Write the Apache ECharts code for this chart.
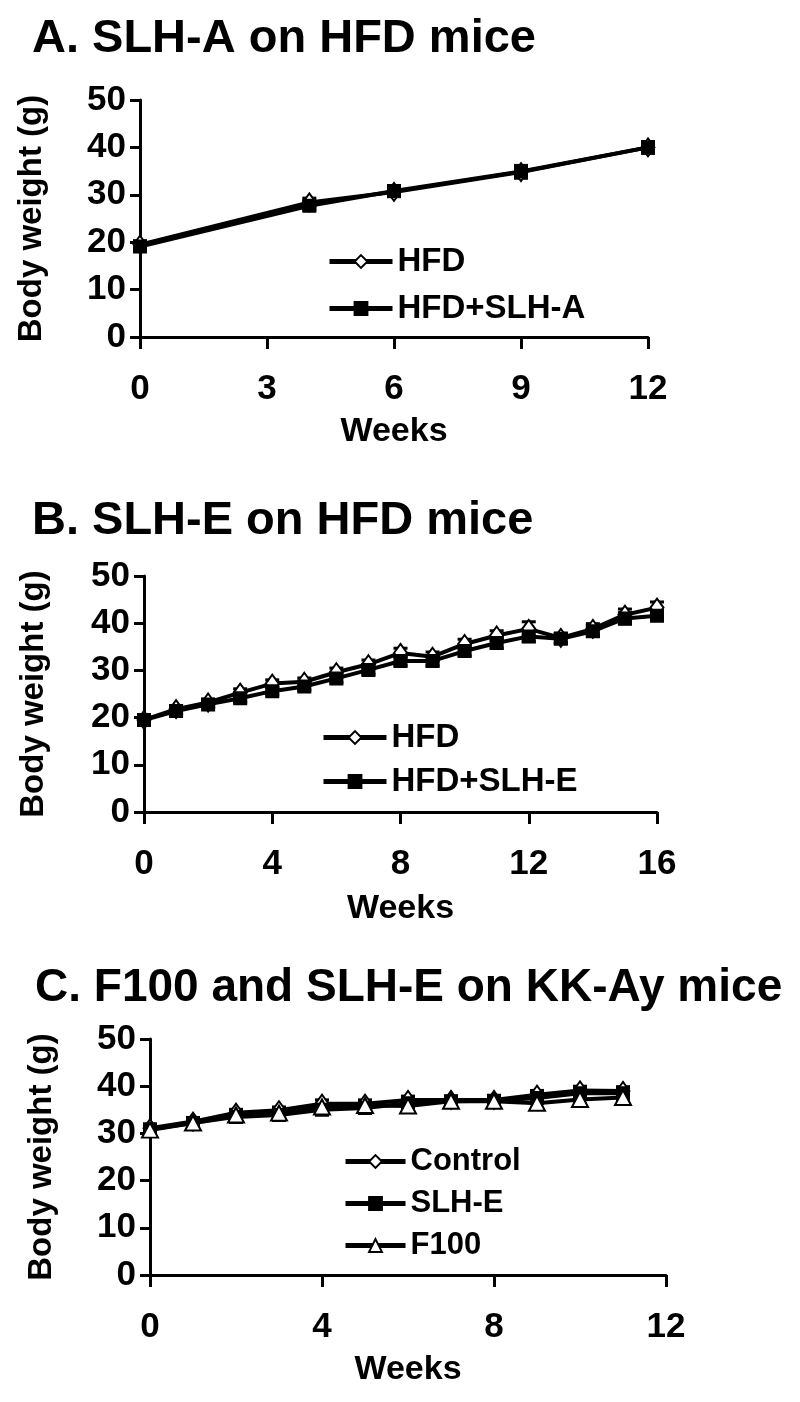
<!DOCTYPE html>
<html>
<head>
<meta charset="utf-8">
<script src="https://cdn.jsdelivr.net/npm/echarts@6/dist/echarts.min.js"></script>
<style>
html,body{margin:0;padding:0;background:#fff;}
#chart{width:800px;height:1402px;}
</style>
</head>
<body>
<div id="chart"></div>
<script>
// ---- Data ----
const titles = ['A. SLH-A on HFD mice', 'B. SLH-E on HFD mice', 'C. F100 and SLH-E on KK-Ay mice'];
const yTitle = 'Body weight (g)';
const xTitle = 'Weeks';

// Panel A
const weeksA = [0, 4, 6, 9, 12];
const hfdA = [19.5, 28.4, 30.6, 34.8, 40.0];
const hfdA_err = [0.8, 0.9, 1.0, 1.3, 1.2];
const slhA = [19.1, 27.7, 30.8, 34.9, 40.0];
const slhA_err = [0.8, 0.9, 1.0, 1.3, 1.2];

// Panel B
const weeksB = [0, 1, 2, 3, 4, 5, 6, 7, 8, 9, 10, 11, 12, 13, 14, 15, 16];
const hfdB = [19.5, 21.8, 23.2, 25.3, 27.2, 27.6, 29.6, 31.3, 33.7, 32.9, 35.6, 37.4, 38.8, 36.9, 38.8, 41.8, 43.3];
const hfdB_err = [0.6, 0.7, 0.7, 0.8, 0.8, 0.8, 0.9, 0.9, 1.0, 1.0, 1.0, 1.0, 1.5, 1.0, 1.1, 1.2, 1.2];
const slhB = [19.5, 21.4, 22.8, 24.1, 25.6, 26.6, 28.3, 30.1, 32.0, 32.0, 34.1, 35.8, 37.2, 36.7, 38.3, 41.0, 41.6];
const slhB_err = [0.6, 0.7, 0.7, 0.8, 0.8, 0.8, 0.9, 0.9, 1.0, 1.0, 1.0, 1.1, 1.1, 1.0, 1.1, 1.2, 1.0];

// Panel C
const weeksC = [0, 1, 2, 3, 4, 5, 6, 7, 8, 9, 10, 11];
const ctrlC = [31.1, 32.5, 34.4, 34.9, 36.3, 36.3, 37.1, 37.1, 37.1, 38.2, 39.1, 39.0];
const ctrlC_err = [0.6, 0.6, 0.7, 0.7, 0.8, 0.8, 0.8, 0.8, 0.8, 0.9, 0.9, 0.9];
const slhC = [30.9, 32.2, 33.5, 33.9, 35.0, 35.4, 36.4, 36.8, 36.9, 37.5, 38.5, 38.5];
const slhC_err = [0.6, 0.6, 0.7, 0.7, 0.8, 0.8, 0.8, 0.8, 0.8, 0.9, 0.9, 0.9];
const f100C = [30.7, 32.2, 33.9, 34.3, 35.6, 35.9, 35.8, 36.8, 36.8, 36.4, 37.2, 37.6];
const f100C_err = [0.6, 0.6, 0.7, 0.7, 0.8, 0.8, 0.8, 0.8, 0.8, 0.9, 0.9, 0.9];

const xTicksA = {min: 0, max: 12, interval: 3};
const xTicksB = {min: 0, max: 16, interval: 4};
const xTicksC = {min: 0, max: 12, interval: 4};
const yTicks = {min: 0, max: 50, interval: 10};

// ---- Chart ----
const FONT = '"Liberation Sans", Arial, sans-serif';
const chart = echarts.init(document.getElementById('chart'), null, {renderer: 'canvas'});

const grids = [
  {left: 140, top: 100, width: 508, height: 237},
  {left: 144, top: 576, width: 513, height: 236},
  {left: 150, top: 1039, width: 516, height: 236}
];

function pairs(xs, ys) { return xs.map((x, i) => [x, ys[i]]); }
function errPairs(xs, ys, es) { return xs.map((x, i) => [x, ys[i], es[i]]); }

function xAxis(idx, t, nameGap) {
  return {
    type: 'value', gridIndex: idx, min: t.min, max: t.max, interval: t.interval,
    name: xTitle, nameLocation: 'middle', nameGap: nameGap,
    nameTextStyle: {fontFamily: FONT, fontWeight: 'bold', fontSize: 34, color: '#000'},
    axisLine: {show: true, onZero: false, lineStyle: {color: '#000', width: 3}},
    axisTick: {show: true, length: 12, lineStyle: {color: '#000', width: 3}},
    axisLabel: {fontFamily: FONT, fontWeight: 'bold', fontSize: 35, color: '#000', margin: 35},
    splitLine: {show: false}
  };
}
function yAxis(idx, nameGap) {
  return {
    type: 'value', gridIndex: idx, min: yTicks.min, max: yTicks.max, interval: yTicks.interval,
    name: yTitle, nameLocation: 'middle', nameGap: nameGap, nameRotate: 90,
    nameTextStyle: {fontFamily: FONT, fontWeight: 'bold', fontSize: 33, color: '#000'},
    axisLine: {show: true, lineStyle: {color: '#000', width: 3}},
    axisTick: {show: true, length: 10, lineStyle: {color: '#000', width: 3}},
    axisLabel: {fontFamily: FONT, fontWeight: 'bold', fontSize: 35, color: '#000', margin: 14},
    splitLine: {show: false}
  };
}

function errSeries(idx, data, z) {
  return {
    type: 'custom', name: 'err', xAxisIndex: idx, yAxisIndex: idx, z: z, silent: true,
    data: data, encode: {x: 0, y: 1},
    renderItem: function (params, api) {
      const x = api.value(0), y = api.value(1), e = api.value(2);
      const top = api.coord([x, y + e]);
      const bot = api.coord([x, y - e]);
      const hw = 7;
      const st = {stroke: '#000', lineWidth: 3};
      return {type: 'group', children: [
        {type: 'line', shape: {x1: top[0], y1: top[1], x2: bot[0], y2: bot[1]}, style: st},
        {type: 'line', shape: {x1: top[0] - hw, y1: top[1], x2: top[0] + hw, y2: top[1]}, style: st},
        {type: 'line', shape: {x1: bot[0] - hw, y1: bot[1], x2: bot[0] + hw, y2: bot[1]}, style: st}
      ]};
    }
  };
}

function lineSeries(idx, name, data, symbol, z) {
  const s = {
    type: 'line', name: name, xAxisIndex: idx, yAxisIndex: idx, data: data, z: z,
    lineStyle: {color: '#000', width: 4},
    itemStyle: {color: '#000', borderColor: '#000', borderWidth: 2},
    symbol: symbol, symbolSize: 12, showAllSymbol: true, animation: false
  };
  if (symbol === 'diamond') { s.symbolSize = [13, 18]; s.itemStyle.color = '#fff'; }
  if (symbol === 'triangle') { s.symbolSize = [16, 15]; s.itemStyle.color = '#fff'; }
  if (symbol === 'rect') { s.symbolSize = 12; }
  return s;
}

const legendText = {fontFamily: FONT, fontWeight: 'bold', fontSize: 33, color: '#000'};
const legendCommon = {
  orient: 'vertical', padding: 0, itemWidth: 63, itemHeight: 16,
  lineStyle: {width: 5, color: '#000'},
  itemStyle: {borderWidth: 2, borderColor: '#000'}
};

const option = {
  backgroundColor: '#fff',
  animation: false,
  title: [
    {text: titles[0], left: 27, top: 11, textStyle: {fontFamily: FONT, fontWeight: 'bold', fontSize: 47, color: '#000'}},
    {text: titles[1], left: 27, top: 493, textStyle: {fontFamily: FONT, fontWeight: 'bold', fontSize: 47, color: '#000'}},
    {text: titles[2], left: 30, top: 960, textStyle: {fontFamily: FONT, fontWeight: 'bold', fontSize: 46, color: '#000'}}
  ],
  legend: [
    Object.assign({data: ['HFD', 'HFD+SLH-A'], left: 327, top: 245, itemGap: 14, textStyle: legendText}, legendCommon),
    Object.assign({data: ['HFD', 'HFD+SLH-E'], left: 321, top: 721, itemGap: 11, textStyle: legendText}, legendCommon),
    Object.assign({data: ['Control', 'SLH-E', 'F100'], left: 343, top: 1146, itemGap: 11,
      textStyle: Object.assign({}, legendText, {fontSize: 31})}, legendCommon, {itemWidth: 60})
  ],
  grid: grids,
  xAxis: [xAxis(0, xTicksA, 78), xAxis(1, xTicksB, 80), xAxis(2, xTicksC, 78)],
  yAxis: [yAxis(0, 92), yAxis(1, 94), yAxis(2, 92)],
  series: [
    errSeries(0, errPairs(weeksA, hfdA, hfdA_err), 1),
    errSeries(0, errPairs(weeksA, slhA, slhA_err), 1),
    lineSeries(0, 'HFD', pairs(weeksA, hfdA), 'diamond', 2),
    lineSeries(0, 'HFD+SLH-A', pairs(weeksA, slhA), 'rect', 3),

    errSeries(1, errPairs(weeksB, hfdB, hfdB_err), 1),
    errSeries(1, errPairs(weeksB, slhB, slhB_err), 1),
    lineSeries(1, 'HFD', pairs(weeksB, hfdB), 'diamond', 2),
    lineSeries(1, 'HFD+SLH-E', pairs(weeksB, slhB), 'rect', 3),

    errSeries(2, errPairs(weeksC, ctrlC, ctrlC_err), 1),
    errSeries(2, errPairs(weeksC, slhC, slhC_err), 1),
    errSeries(2, errPairs(weeksC, f100C, f100C_err), 1),
    lineSeries(2, 'Control', pairs(weeksC, ctrlC), 'diamond', 2),
    lineSeries(2, 'SLH-E', pairs(weeksC, slhC), 'rect', 3),
    lineSeries(2, 'F100', pairs(weeksC, f100C), 'triangle', 4)
  ]
};
chart.setOption(option);
</script>
</body>
</html>
